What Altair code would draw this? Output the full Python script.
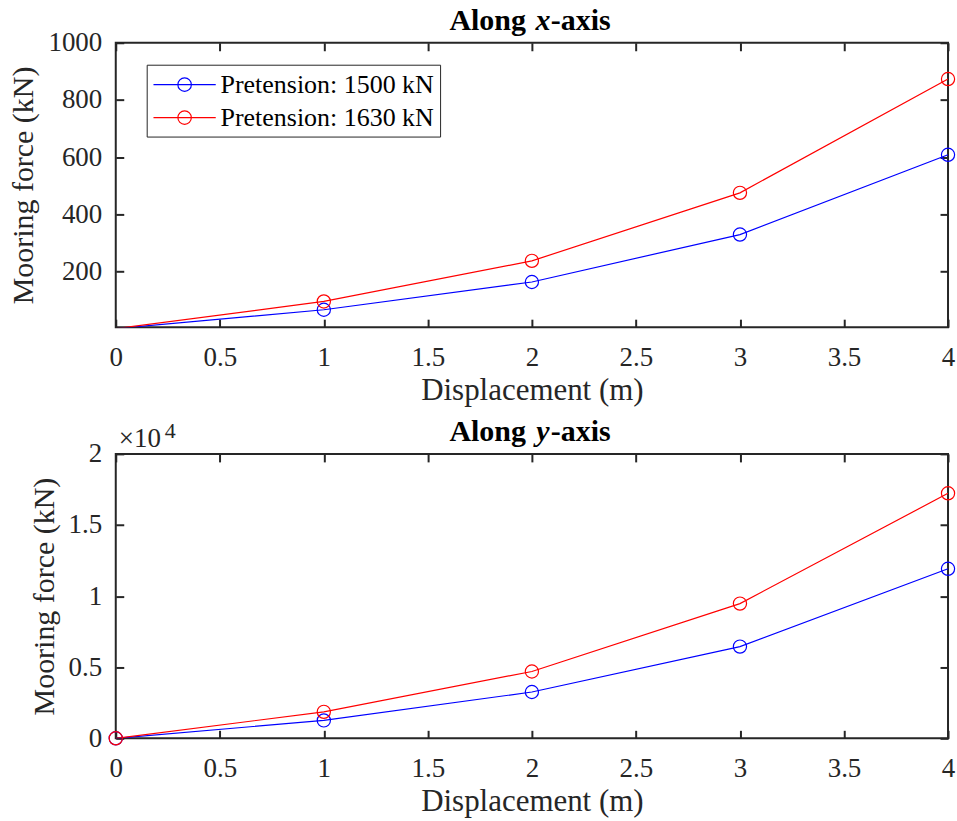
import altair as alt
import pandas as pd

# ---- data ----
disp = [0, 1, 2, 3, 4]
series = ["Pretension: 1500 kN", "Pretension: 1630 kN"]
colors = ["#0000ff", "#ff0000"]
x_1500 = [0, 66, 163, 329, 608]
x_1630 = [0, 95, 237, 475, 873]
y_1500 = [0, 1260, 3255, 6450, 11920]
y_1630 = [0, 1860, 4700, 9475, 17230]
x_ticks = [0, 0.5, 1, 1.5, 2, 2.5, 3, 3.5, 4]
top_yticks = [200, 400, 600, 800, 1000]
bot_yticks = [0, 5000, 10000, 15000, 20000]
titles = [("Along", "x", "-axis"), ("Along", "y", "-axis")]

W, H = 834, 285
FONT = "Liberation Serif"
AX = "#262626"


def make_df(a, b):
    return pd.DataFrame({
        "disp": disp * 2,
        "force": a + b,
        "series": [series[0]] * len(disp) + [series[1]] * len(disp),
    })


def panel(df, ydom, yticks, ylabel_expr, title_parts, legend, point_min):
    xs = alt.Scale(domain=[0, 4], nice=False, zero=False)
    ys = alt.Scale(domain=ydom, nice=False, zero=False)
    x_main = alt.Axis(orient="bottom", values=x_ticks, format="~g", ticks=False, tickSize=0,
                      domain=False, grid=False, labelFont=FONT, labelFontSize=27, labelColor=AX,
                      labelPadding=17, labelFlush=False,
                      title="Displacement (m)", titleFont=FONT, titleFontSize=31,
                      titleFontWeight="normal", titleColor=AX, titlePadding=5)
    y_main = alt.Axis(orient="left", values=yticks, labelExpr=ylabel_expr, ticks=False, tickSize=0,
                      domain=False, grid=False, labelFont=FONT, labelFontSize=27, labelColor=AX,
                      labelPadding=14, labelFlush=False,
                      title="Mooring force (kN)", titleFont=FONT, titleFontSize=30,
                      titleFontWeight="normal", titleColor=AX, titlePadding=9)
    color = alt.Color("series:N", scale=alt.Scale(domain=series, range=colors), legend=legend)
    base = alt.Chart(df)
    line = base.mark_line(clip=True, strokeWidth=1.2).encode(
        x=alt.X("disp:Q", scale=xs, axis=x_main),
        y=alt.Y("force:Q", scale=ys, axis=y_main),
        color=color,
    )
    pts = base.mark_point(shape="circle", filled=False, size=175, strokeWidth=1.2, opacity=1).encode(
        x=alt.X("disp:Q", axis=None), y=alt.Y("force:Q", axis=None), color=color
    ).transform_filter(alt.datum.force >= point_min)

    def tick_axis(orient, off, vals):
        return alt.Axis(orient=orient, offset=off, values=vals, labels=False, domain=False,
                        ticks=True, tickSize=8, tickWidth=2, tickColor=AX, grid=False, title=None)

    t1 = base.mark_point(opacity=0).encode(
        x=alt.X("disp:Q", axis=tick_axis("top", -H, x_ticks)),
        y=alt.Y("force:Q", axis=tick_axis("right", -W, yticks)),
    )
    t2 = base.mark_point(opacity=0).encode(
        x=alt.X("disp:Q", axis=tick_axis("bottom", -H, x_ticks)),
        y=alt.Y("force:Q", axis=tick_axis("left", -W, yticks)),
    )
    one = alt.Data(values=[{"a": 1}])
    tA = alt.Chart(one).mark_text(font=FONT, fontSize=30, fontWeight="bold", align="right",
                                  baseline="alphabetic", color="black").encode(
        x=alt.value(411), y=alt.value(-13), text=alt.value(title_parts[0]))
    tB = alt.Chart(one).mark_text(font=FONT, fontSize=30, fontWeight="bold", fontStyle="italic",
                                  align="center", baseline="alphabetic", color="black").encode(
        x=alt.value(428), y=alt.value(-13), text=alt.value(title_parts[1]))
    tC = alt.Chart(one).mark_text(font=FONT, fontSize=30, fontWeight="bold", align="left",
                                  baseline="alphabetic", color="black").encode(
        x=alt.value(436), y=alt.value(-13), text=alt.value(title_parts[2]))
    return alt.layer(line, pts, t1, t2, tA, tB, tC).resolve_axis(
        x="independent", y="independent").properties(width=W, height=H)


leg = alt.Legend(orient="none", legendX=31, legendY=22, title=None, labelFont=FONT,
                 labelFontSize=26, labelColor="black", labelLimit=400,
                 symbolType="M-2.4,0L2.4,0M0.52,0A0.52,0.52,0,1,1,-0.52,0A0.52,0.52,0,1,1,0.52,0",
                 symbolSize=676, symbolStrokeWidth=1.2, symbolFillColor="transparent",
                 symbolOffset=18, labelOffset=22,
                 strokeColor=AX, fillColor="white", padding=6, rowPadding=6)

top = panel(make_df(x_1500, x_1630), [5, 1000], top_yticks, "format(datum.value, 'd')",
            titles[0], leg, 5)
bot = panel(make_df(y_1500, y_1630), [0, 20000], bot_yticks, "format(datum.value / 10000, '~g')",
            titles[1], None, -1)

one = alt.Data(values=[{"a": 1}])
exp1 = alt.Chart(one).mark_text(font=FONT, fontSize=27, align="left", baseline="alphabetic",
                                color=AX).encode(x=alt.value(3), y=alt.value(-7), text=alt.value("×10"))
exp2 = alt.Chart(one).mark_text(font=FONT, fontSize=22, align="left", baseline="alphabetic",
                                color=AX).encode(x=alt.value(49), y=alt.value(-16), text=alt.value("4"))
bot = alt.layer(bot, exp1, exp2)

chart = alt.vconcat(top, bot, spacing=127, bounds="flush").properties(
    padding={"left": 7, "top": 4, "right": -2, "bottom": 0}
).configure(font=FONT).configure_view(stroke=AX, strokeWidth=2)

chart.save("out.html", embed_options={"renderer": "svg", "actions": False})
